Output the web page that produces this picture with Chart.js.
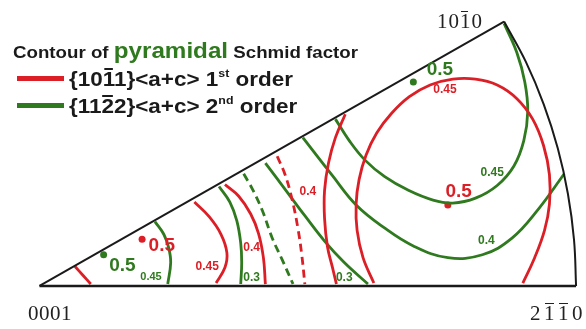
<!DOCTYPE html>
<html>
<head>
<meta charset="utf-8">
<script src="https://cdn.jsdelivr.net/npm/chart.js@4/dist/chart.umd.min.js"></script>
<style>
  body { margin: 0; background: #fff; }
  #wrap { position: relative; width: 586px; height: 329px; overflow: hidden; }
  #c { position: absolute; left: 0; top: 0; }
  .txt { position: absolute; white-space: nowrap; font-family: "Liberation Sans", Arial, sans-serif; font-weight: bold; color: #1a1a1a; line-height: 1; transform-origin: 0 50%; }
  .ol { position: relative; }
  .ol::before { content: ""; position: absolute; left: 1px; right: 1px; top: 0.06em; border-top: 2px solid currentColor; }
  .pole .ol::before { border-top-width: 1.5px; top: 0.1em; right: 0.18em; }
  .pyr { color: #2f7a1e; font-size: 22px; }
  sup { font-size: 0.55em; vertical-align: 0.75em; line-height: 0; }
  .bar { position: absolute; height: 5px; width: 47px; left: 17px; }
  .pole { position: absolute; white-space: nowrap; font-family: "Liberation Serif", "DejaVu Serif", serif; font-size: 21px; color: #222; line-height: 1; }
</style>
</head>
<body>
<div id="wrap">
  <canvas id="c" width="586" height="329"></canvas>
  <div class="txt" style="left:13px;top:40px;font-size:17px;transform:scaleX(1.1)">Contour of <span class="pyr">pyramidal</span> Schmid factor</div>
  <div class="bar" style="top:76px;background:#dc1f26"></div>
  <div class="txt" style="left:69px;top:68px;font-size:21px;transform:scaleX(1.07)">{10<span class="ol">1</span>1}&lt;a+c&gt; 1<sup>st</sup> order</div>
  <div class="bar" style="top:103px;background:#2f7a1e"></div>
  <div class="txt" style="left:69px;top:95px;font-size:21px;transform:scaleX(1.07)">{11<span class="ol">2</span>2}&lt;a+c&gt; 2<sup>nd</sup> order</div>
  <div class="pole" style="left:28px;top:303px;letter-spacing:0.5px">0001</div>
  <div class="pole" style="left:437px;top:11px;letter-spacing:1px">10<span class="ol">1</span>0</div>
  <div class="pole" style="left:530px;top:303px;letter-spacing:3.5px">2<span class="ol">1</span><span class="ol">1</span>0</div>
</div>
<script>
// coordinates: origin at the 0001 pole, 1010-2110 arc radius 544
const RED = "#dc1f26";
const GREEN = "#2f7a1e";

// triangle boundary
const edgeBottom = [{x: 0, y: 0}, {x: 544, y: 0}];
const edgeTop = [{x: 0, y: 0}, {x: 471, y: 271}];
const edgeArc = [
  {x: 544, y: 0}, {x: 541.9, y: 47.4}, {x: 535.7, y: 94.5}, {x: 525.5, y: 140.8},
  {x: 511.2, y: 186.1}, {x: 493, y: 229.9}, {x: 471, y: 271},
];

// {10-11}<a+c> 1st order contours
const red1 = [{x: 36, y: 20}, {x: 44, y: 11}, {x: 52, y: 2}];
const red045a = [{x: 157, y: 86}, {x: 172, y: 71}, {x: 184, y: 53}, {x: 190, y: 34}, {x: 188, y: 19}, {x: 179, y: 3}];
const red04a = [{x: 188, y: 104}, {x: 202, y: 92}, {x: 214, y: 74}, {x: 222, y: 54}, {x: 227, y: 29}, {x: 229, y: 2}];
const redDash = [{x: 241, y: 133}, {x: 249, y: 114}, {x: 256, y: 89}, {x: 262, y: 59}, {x: 266, y: 31}, {x: 269, y: 2}];
const red04b = [{x: 310, y: 176}, {x: 300, y: 152}, {x: 293, y: 126}, {x: 289, y: 98}, {x: 289, y: 69}, {x: 292, y: 40}, {x: 297, y: 19}, {x: 301, y: 2}];
const red045b = [
  {x: 339, y: 3}, {x: 328, y: 29}, {x: 322, y: 57}, {x: 321, y: 84}, {x: 324, y: 109}, {x: 331, y: 134},
  {x: 342, y: 157}, {x: 357, y: 177}, {x: 375, y: 194}, {x: 396, y: 206}, {x: 419, y: 212}, {x: 442, y: 212},
  {x: 464, y: 206}, {x: 484, y: 192}, {x: 500, y: 171}, {x: 511, y: 144}, {x: 517, y: 114}, {x: 517, y: 84},
  {x: 512, y: 57}, {x: 502, y: 29}, {x: 490, y: 3},
];

// {11-22}<a+c> 2nd order contours
const green045a = [{x: 117, y: 66}, {x: 126, y: 53}, {x: 131, y: 39}, {x: 133, y: 24}, {x: 130, y: 2}];
const green03a = [{x: 182, y: 102}, {x: 193, y: 86}, {x: 200, y: 67}, {x: 204, y: 44}, {x: 205, y: 24}, {x: 204, y: 2}];
const greenDash = [{x: 207, y: 115}, {x: 216, y: 99}, {x: 226, y: 77}, {x: 236, y: 49}, {x: 246, y: 27}, {x: 257, y: 2}];
const green03b = [{x: 229, y: 126}, {x: 249, y: 99}, {x: 269, y: 72}, {x: 289, y: 46}, {x: 309, y: 24}, {x: 333, y: 2}];
const green04 = [
  {x: 267, y: 152}, {x: 297, y: 113}, {x: 321, y: 83}, {x: 349, y: 60}, {x: 379, y: 41},
  {x: 414, y: 29}, {x: 449, y: 32}, {x: 479, y: 49}, {x: 506, y: 79}, {x: 532, y: 115},
];
const green045b = [
  {x: 300, y: 171}, {x: 314, y: 149}, {x: 330, y: 129}, {x: 350, y: 112}, {x: 374, y: 98}, {x: 399, y: 88},
  {x: 419, y: 85}, {x: 442, y: 90}, {x: 464, y: 103}, {x: 481, y: 123}, {x: 491, y: 149}, {x: 495, y: 179},
  {x: 492, y: 209}, {x: 484, y: 239}, {x: 471, y: 269},
];

// maxima
const redPeaks = [{x: 104, y: 48}, {x: 414, y: 83}];
const greenPeaks = [{x: 65, y: 32}, {x: 379, y: 209}];

// contour labels: [x, y, text, colour, size]
const labels = [
  [84, 21, "0.5", GREEN, 19],
  [113, 9, "0.45", GREEN, 11],
  [124, 41, "0.5", RED, 19],
  [170, 20, "0.45", RED, 12],
  [215, 8, "0.3", GREEN, 12],
  [215, 39, "0.4", RED, 12],
  [272, 97, "0.4", RED, 12],
  [309, 8, "0.3", GREEN, 12],
  [411, 201, "0.45", RED, 12],
  [406, 222, "0.5", GREEN, 19],
  [425, 97, "0.5", RED, 19],
  [459, 116, "0.45", GREEN, 12],
  [453, 46, "0.4", GREEN, 12],
];

function curve(data, color, dash) {
  return {
    data: data,
    showLine: true,
    borderColor: color,
    borderWidth: 2.8,
    borderDash: dash ? [8, 5] : [],
    pointRadius: 0,
    tension: 0.4,
    fill: false,
  };
}

const labelPlugin = {
  id: "contourLabels",
  afterDatasetsDraw(chart) {
    const ctx = chart.ctx;
    const sx = chart.scales.x;
    const sy = chart.scales.y;
    ctx.save();
    ctx.textAlign = "center";
    ctx.textBaseline = "middle";
    labels.forEach(function (l) {
      ctx.fillStyle = l[3];
      ctx.font = "bold " + l[4] + "px 'Liberation Sans', Arial, sans-serif";
      ctx.fillText(l[2], sx.getPixelForValue(l[0]), sy.getPixelForValue(l[1]));
    });
    ctx.restore();
  },
};

const chart = new Chart(document.getElementById("c").getContext("2d"), {
  type: "scatter",
  data: {
    datasets: [
      Object.assign(curve(edgeBottom, "#1a1a1a"), {tension: 0, borderWidth: 2.5}),
      Object.assign(curve(edgeTop, "#1a1a1a"), {tension: 0, borderWidth: 2}),
      Object.assign(curve(edgeArc, "#1a1a1a"), {borderWidth: 2}),
      curve(red1, RED),
      curve(red045a, RED),
      curve(red04a, RED),
      curve(redDash, RED, true),
      curve(red04b, RED),
      curve(red045b, RED),
      curve(green045a, GREEN),
      curve(green03a, GREEN),
      curve(greenDash, GREEN, true),
      curve(green03b, GREEN),
      curve(green04, GREEN),
      curve(green045b, GREEN),
      {data: redPeaks, pointRadius: 3.5, pointBackgroundColor: RED, pointBorderWidth: 0, showLine: false},
      {data: greenPeaks, pointRadius: 3.5, pointBackgroundColor: GREEN, pointBorderWidth: 0, showLine: false},
    ],
  },
  options: {
    responsive: false,
    animation: false,
    layout: {padding: 0},
    plugins: {legend: {display: false}, tooltip: {enabled: false}},
    scales: {
      x: {type: "linear", min: -36, max: 550, display: false},
      y: {type: "linear", min: -40, max: 289, display: false},
    },
  },
  plugins: [labelPlugin],
});
</script>
</body>
</html>
